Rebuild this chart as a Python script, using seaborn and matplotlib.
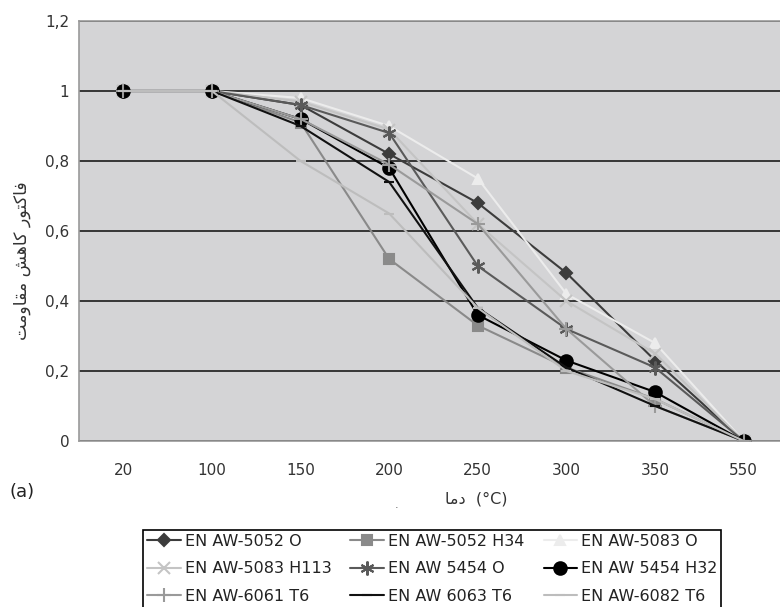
import numpy as np
import pandas as pd
import matplotlib
matplotlib.use("Agg")
import matplotlib.pyplot as plt
import seaborn as sns

# temperatures (categorical axis)
temps = ["20", "100", "150", "200", "250", "300", "350", "550"]

# strength reduction factors
aw5052_o = [1, 1, 0.96, 0.82, 0.68, 0.48, 0.23, 0]
aw5052_h34 = [1, 1, 0.91, 0.52, 0.33, 0.21, 0.12, 0]
aw5083_o = [1, 1, 0.98, 0.90, 0.75, 0.42, 0.28, 0]
aw5083_h113 = [1, 1, 0.97, 0.89, 0.62, 0.40, 0.25, 0]
aw5454_o = [1, 1, 0.96, 0.88, 0.50, 0.32, 0.21, 0]
aw5454_h32 = [1, 1, 0.92, 0.78, 0.36, 0.23, 0.14, 0]
aw6061_t6 = [1, 1, 0.92, 0.79, 0.62, 0.32, 0.10, 0]
aw6063_t6 = [1, 1, 0.90, 0.74, 0.38, 0.21, 0.10, 0]
aw6082_t6 = [1, 1, 0.80, 0.65, 0.38, 0.20, 0.12, 0]

names = ["EN AW-5052 O", "EN AW-5052 H34", "EN AW-5083 O",
         "EN AW-5083 H113", "EN AW 5454 O", "EN AW 5454 H32",
         "EN AW-6061 T6", "EN AW 6063 T6", "EN AW-6082 T6"]
series = [aw5052_o, aw5052_h34, aw5083_o, aw5083_h113, aw5454_o,
          aw5454_h32, aw6061_t6, aw6063_t6, aw6082_t6]

colors = ["#3c3c3c", "#8a8a8a", "#ececec", "#c4c4c4", "#5a5a5a",
          "#000000", "#9a9a9a", "#111111", "#bdbdbd"]
markers = ["D", "s", "^", "x", (6, 2, 0), "o", "+", "_", "_"]
msizes = [6, 7, 7, 8, 10, 9, 10, 7, 7]

rows = []
for name, vals in zip(names, series):
    for t, v in zip(temps, vals):
        rows.append({"temp": t, "factor": v, "alloy": name})
df = pd.DataFrame(rows)

sns.set_style("white")
plt.rcParams["font.family"] = ["DejaVu Sans"]

fig = plt.figure(figsize=(7.8, 6.07), dpi=100)
ax = fig.add_axes([79 / 780, 1 - 441 / 607, 709 / 780, 420 / 607])
ax.set_facecolor("#d4d4d6")

handles = {}
for name, col, mk, ms in zip(names, colors, markers, msizes):
    sub = df[df["alloy"] == name]
    sns.lineplot(data=sub, x="temp", y="factor", ax=ax, color=col,
                 marker=mk, markersize=ms, markeredgecolor=col,
                 markerfacecolor=col, markeredgewidth=1.5, linewidth=1.5,
                 sort=False, label=name, legend=False)
    handles[name] = ax.lines[-1]

ax.set_xlim(-0.5, len(temps) - 0.5)
ax.set_ylim(0, 1.2)
ax.set_yticks([0, 0.2, 0.4, 0.6, 0.8, 1.0, 1.2])
ax.set_yticklabels(["0", "0,2", "0,4", "0,6", "0,8", "1", "1,2"])
ax.set_xticks(range(len(temps)))
ax.set_xticklabels(temps)
ax.set_xticks(np.arange(-0.5, len(temps), 1.0), minor=True)
ax.tick_params(axis="x", which="major", length=0, pad=16,
               labelsize=11, labelcolor="#333333")
ax.tick_params(axis="x", which="minor", length=6, width=1.2,
               color="#222222", direction="out")
ax.tick_params(axis="y", length=5, width=1, color="#333333",
               direction="out", labelsize=11, labelcolor="#333333", pad=2)

ax.yaxis.grid(True, color="#2a2a2a", linewidth=1.3)
ax.set_axisbelow(True)
for s in ["top", "left", "bottom"]:
    ax.spines[s].set_color("#9a9a9a")
    ax.spines[s].set_linewidth(1.2)
ax.spines["right"].set_visible(False)

# Persian labels written in visual order with presentation forms
ylabel = "\uFE96\uFEE3\uFEED\uFE8E\uFED8\uFEE3 \uFEB6\uFEEB\uFE8E\uFB90 \uFEAD\uFEEE\uFE98\uFB90\uFE8E\uFED3"
ax.set_ylabel(ylabel, fontsize=12.5, color="#333333")
ax.yaxis.set_label_coords(-0.068, 0.43)
ax.set_xlabel("\uFE8E\uFEE3\uFEA9  (\u00b0C)", fontsize=11.5, color="#333333")
ax.xaxis.set_label_coords(0.56, -0.12)

fig.text(22 / 780, 1 - 492 / 607, "(a)", fontsize=13, color="#222222",
         ha="center", va="center")
fig.text(397 / 780, 1 - 505 / 607, ".", fontsize=8, color="#555555",
         ha="center", va="center")

order = [0, 3, 6, 1, 4, 7, 2, 5, 8]
leg = fig.legend([handles[names[i]] for i in order],
                 [names[i] for i in order],
                 loc="upper left", bbox_to_anchor=(143 / 780, 1 - 530 / 607),
                 ncol=3, fontsize=11.5, frameon=True, fancybox=False,
                 edgecolor="#000000", framealpha=1, handlelength=2.1,
                 columnspacing=1.2, handletextpad=0.25, labelspacing=0.78,
                 borderpad=0.25, borderaxespad=0)
leg.get_frame().set_linewidth(1.2)
for t in leg.get_texts():
    t.set_color("#222222")

fig.savefig("out.png", dpi=100)
